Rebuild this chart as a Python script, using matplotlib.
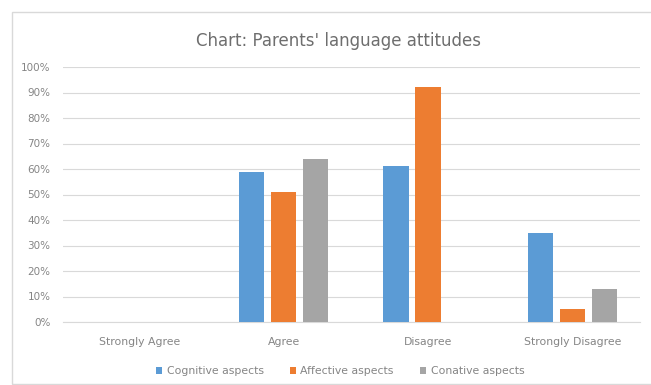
import matplotlib
matplotlib.use("Agg")
import matplotlib.pyplot as plt
import numpy as np
from matplotlib.patches import Rectangle

categories = ["Strongly Agree", "Agree", "Disagree", "Strongly Disagree"]
series_names = ["Cognitive aspects", "Affective aspects", "Conative aspects"]
cognitive = [0, 59, 61, 35]
affective = [0, 51, 92, 5]
conative = [0, 64, 0, 13]
yticks = list(range(0, 101, 10))
title = "Chart: Parents' language attitudes"

colors = ["#5B9BD5", "#ED7D31", "#A5A5A5"]
text_color = "#858585"

W, H = 651, 385
fig = plt.figure(figsize=(W / 100, H / 100), dpi=100)
fig.patch.set_facecolor("white")

# chart border
fig.add_artist(Rectangle((12 / W, 1 / H), 1.0, 372 / H, transform=fig.transFigure,
                         fill=False, edgecolor="#D9D9D9", linewidth=1.0))

ax = fig.add_axes([63 / W, 1 - 322 / H, (640 - 63) / W, (322 - 67) / H])
x = np.arange(len(categories))
w = 1 / 5.73
step = 1.27 * w
for i, (vals, c, name) in enumerate(zip([cognitive, affective, conative], colors, series_names)):
    ax.bar(x + (i - 1) * step, vals, width=w, color=c, label=name, zorder=3)

ax.set_xlim(-0.53, len(categories) - 0.53)
ax.set_ylim(0, 100)
ax.set_yticks(yticks)
ax.set_yticklabels([f"{t}%" for t in yticks])
ax.set_xticks(x)
ax.set_xticklabels(categories)
ax.grid(axis="y", color="#D9D9D9", linewidth=0.8, zorder=0)
ax.set_axisbelow(True)
for s in ["top", "right", "left"]:
    ax.spines[s].set_visible(False)
ax.spines["bottom"].set_color("#D9D9D9")
ax.tick_params(axis="both", length=0, colors=text_color)
ax.tick_params(axis="y", pad=9, labelsize=7.5)
ax.tick_params(axis="x", pad=11, labelsize=7.8)

fig.text(338 / W, 1 - 41 / H, title, ha="center", va="center", fontsize=12, color="#6E6E6E")

leg = fig.legend(loc="center", bbox_to_anchor=(340 / W, 1 - 371 / H), ncol=3, frameon=False,
                 fontsize=7.8, handlelength=0.6, handleheight=0.6, handletextpad=0.4,
                 columnspacing=2.4)
for t in leg.get_texts():
    t.set_color(text_color)

fig.savefig("out.png", dpi=100, facecolor="white")
